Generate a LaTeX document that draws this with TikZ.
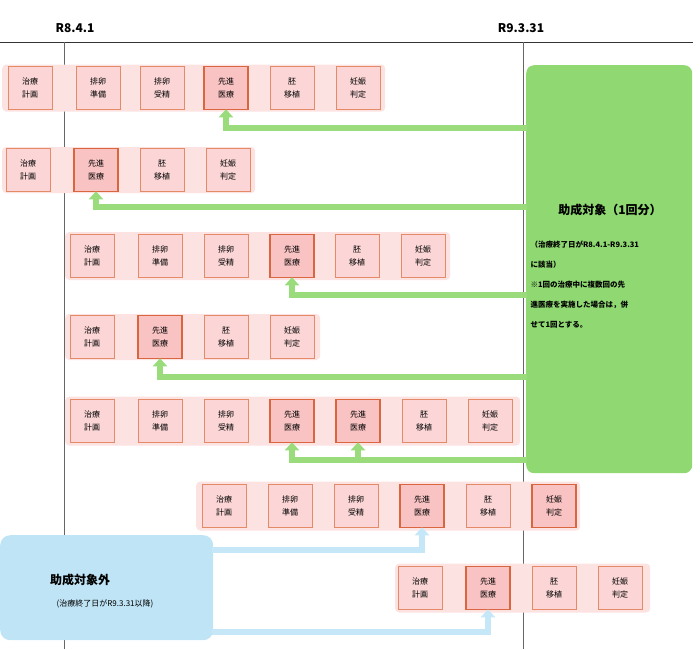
\documentclass[tikz,border=0pt]{standalone}
\usepackage{fontspec}
\setmainfont{Noto Sans CJK JP}
\usetikzlibrary{arrows.meta}
\definecolor{bgp}{HTML}{FDE2E2}
\definecolor{bxf}{HTML}{FCD6D6}
\definecolor{bxd}{HTML}{E58A66}
\definecolor{hlf}{HTML}{FAC3C3}
\definecolor{hld}{HTML}{D9663E}
\definecolor{gb}{HTML}{8FD872}
\definecolor{ga}{HTML}{9ADC7C}
\definecolor{bb}{HTML}{BFE4F5}
\definecolor{ba}{HTML}{C6E7F7}
\tikzset{
 bg/.style={fill=bgp,rounded corners=4pt,draw=none},
 bx/.style={draw=bxd,fill=bxf,line width=0.9pt,minimum width=44pt,minimum height=43pt,align=center,font=\fontsize{8}{13}\selectfont,inner sep=0pt},
 hl/.style={bx,draw=hld,fill=hlf,line width=1.5pt},
 gar/.style={draw=ga,line width=6pt,-{Triangle[length=8pt,width=14pt]}},
 bar/.style={draw=ba,line width=6pt,-{Triangle[length=8pt,width=14pt]}},
}
\newcommand{\bgrow}[5]{\node[bg,minimum width=#3,minimum height=#4,anchor=west] (#1) at (#2,#5) {};}
\begin{document}
\begin{tikzpicture}[x=1pt,y=-1pt]
\useasboundingbox (0,0) rectangle (700,649);
% timeline
\draw[line width=0.8pt,black!80] (0,42) -- (693,42);
\draw[line width=0.8pt,black!60] (64,42) -- (64,649);
\draw[line width=0.8pt,black!60] (523,42) -- (523,649);
\node[font=\bfseries\fontsize{12}{14}\selectfont] (t1) at (75,28) {R8.4.1};
\node[font=\bfseries\fontsize{12}{14}\selectfont] (t2) at (521,28) {R9.3.31};
% green box
\node[fill=gb,rounded corners=8pt,minimum width=166pt,minimum height=408pt,anchor=north west] (gbox) at (526,65) {};
\node[font=\bfseries\fontsize{12}{14}\selectfont] (gt) at (610,210) {助成対象（1回分）};
\node[anchor=west,align=left,font=\bfseries\fontsize{7.5}{20}\selectfont] (gd) at (527,285)
 {（治療終了日がR8.4.1-R9.3.31\\に該当）\\※1回の治療中に複数回の先\\進医療を実施した場合は，併\\せて1回とする。};
% blue box
\node[fill=bb,rounded corners=10pt,minimum width=213pt,minimum height=105pt,anchor=north west] (bbox) at (0,535) {};
\node[font=\bfseries\fontsize{12}{14}\selectfont] (bt) at (80,580) {助成対象外};
\node[font=\fontsize{8}{10}\selectfont] (bd) at (105,604) {(治療終了日がR9.3.31以降)};
% rows backgrounds
\bgrow{r1}{2}{383pt}{47pt}{88}
\bgrow{r2}{2}{253pt}{46pt}{170}
\bgrow{r3}{65}{385pt}{48pt}{256}
\bgrow{r4}{65}{255pt}{46pt}{337}
\bgrow{r5}{65}{455pt}{49pt}{421}
\bgrow{r6}{196}{384pt}{49pt}{506}
\bgrow{r7}{395}{255pt}{49pt}{588}
% row1
\node[bx] (a1) at (30,88) {治療\\計画};
\node[bx] (a2) at (98,88) {排卵\\準備};
\node[bx] (a3) at (162,88) {排卵\\受精};
\node[hl] (a4) at (226,88) {先進\\医療};
\node[bx] (a5) at (292,88) {胚\\移植};
\node[bx] (a6) at (358,88) {妊娠\\判定};
% row2
\node[bx] (b1) at (28,170) {治療\\計画};
\node[hl] (b2) at (96,170) {先進\\医療};
\node[bx] (b3) at (162,170) {胚\\移植};
\node[bx] (b4) at (228,170) {妊娠\\判定};
% row3
\node[bx] (c1) at (92,256) {治療\\計画};
\node[bx] (c2) at (160,256) {排卵\\準備};
\node[bx] (c3) at (226,256) {排卵\\受精};
\node[hl] (c4) at (292,256) {先進\\医療};
\node[bx] (c5) at (357,256) {胚\\移植};
\node[bx] (c6) at (423,256) {妊娠\\判定};
% row4
\node[bx] (d1) at (92,337) {治療\\計画};
\node[hl] (d2) at (160,337) {先進\\医療};
\node[bx] (d3) at (226,337) {胚\\移植};
\node[bx] (d4) at (292,337) {妊娠\\判定};
% row5
\node[bx] (e1) at (92,421) {治療\\計画};
\node[bx] (e2) at (160,421) {排卵\\準備};
\node[bx] (e3) at (226,421) {排卵\\受精};
\node[hl] (e4) at (292,421) {先進\\医療};
\node[hl] (e5) at (358,421) {先進\\医療};
\node[bx] (e6) at (424,421) {胚\\移植};
\node[bx] (e7) at (490,421) {妊娠\\判定};
% row6
\node[bx] (f1) at (224,506) {治療\\計画};
\node[bx] (f2) at (290,506) {排卵\\準備};
\node[bx] (f3) at (356,506) {排卵\\受精};
\node[hl] (f4) at (422,506) {先進\\医療};
\node[bx] (f5) at (488,506) {胚\\移植};
\node[hl] (f6) at (554,506) {妊娠\\判定};
% row7
\node[bx] (g1) at (420,588) {治療\\計画};
\node[hl] (g2) at (488,588) {先進\\医療};
\node[bx] (g3) at (554,588) {胚\\移植};
\node[bx] (g4) at (620,588) {妊娠\\判定};
% green arrows
\coordinate (ga1) at (527,128);
\coordinate (ga2) at (527,207);
\coordinate (ga3) at (527,295);
\coordinate (ga4) at (527,377);
\coordinate (ga5) at (527,460);
\draw[gar,rounded corners=0pt] (ga1) -| ([yshift=1pt]a4.south);
\draw[gar] (ga2) -| ([yshift=1pt]b2.south);
\draw[gar] (ga3) -| ([yshift=1pt]c4.south);
\draw[gar] (ga4) -| ([yshift=1pt]d2.south);
\draw[gar] (ga5) -| ([yshift=1pt]e4.south);
\draw[gar] (ga5) -| ([yshift=1pt]e5.south);
% blue arrows
\coordinate (ba1) at (212,550);
\coordinate (ba2) at (212,632);
\draw[bar] (ba1) -| ([yshift=1pt]f4.south);
\draw[bar] (ba2) -| ([yshift=1pt]g2.south);
\end{tikzpicture}
\end{document}
